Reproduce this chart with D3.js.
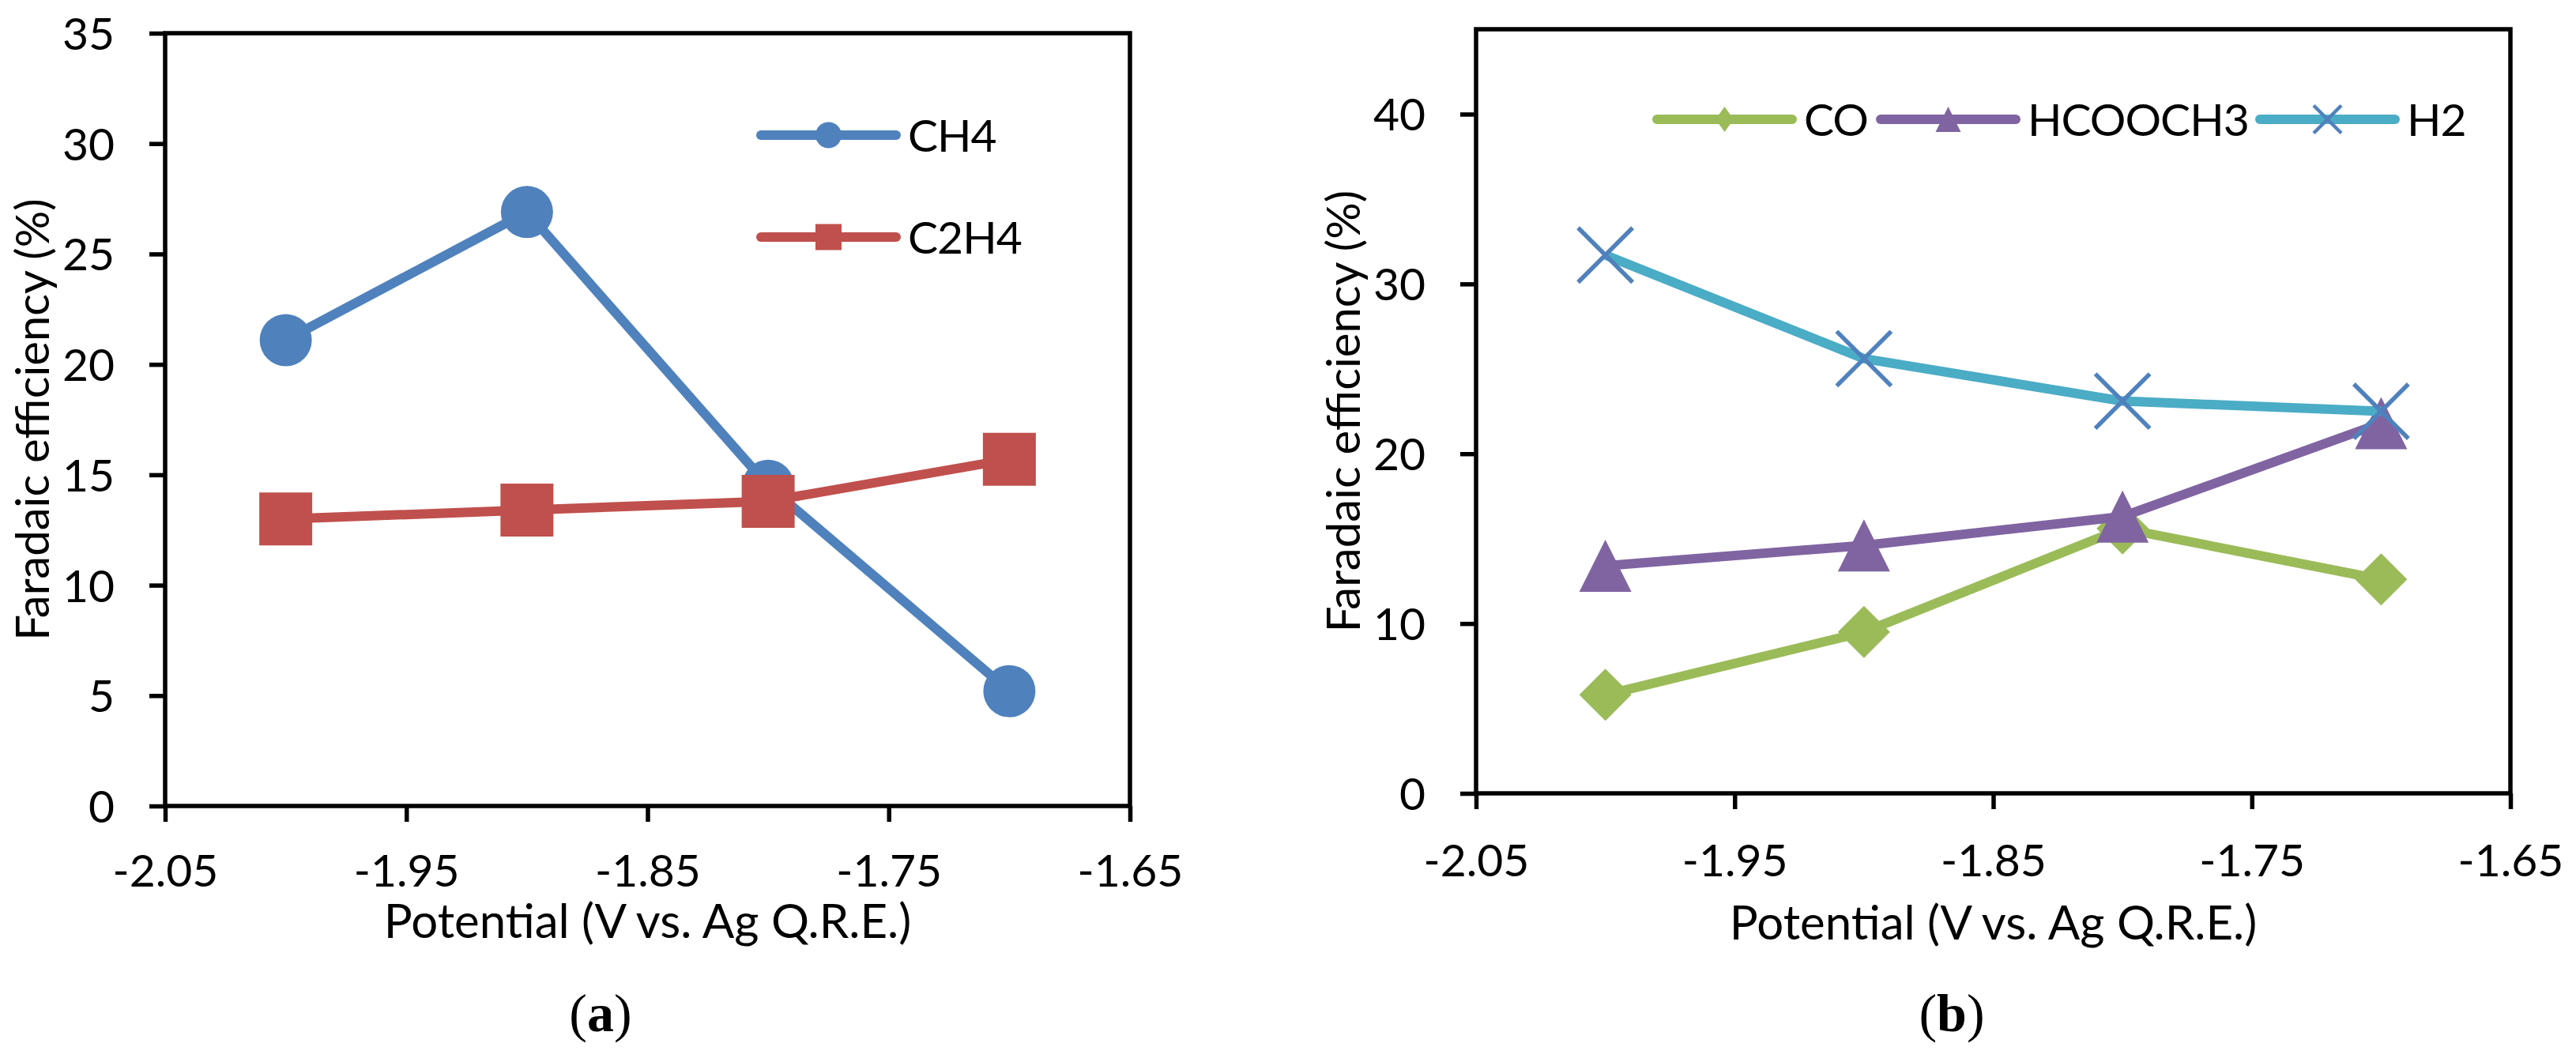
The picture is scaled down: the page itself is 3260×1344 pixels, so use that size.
<!DOCTYPE html>
<html>
<head>
<meta charset="utf-8">
<title>Faradaic efficiency vs potential</title>
<script src="https://cdn.jsdelivr.net/npm/d3@7"></script>
<style>
  body { margin: 0; background: #fff; }
  svg { display: block; background: #fff; }
</style>
</head>
<body>
<svg id="chart" width="3260" height="1344"></svg>
<script>
// measured potentials (V vs. Ag Q.R.E.)
const potentials = [-2.0, -1.9, -1.8, -1.7];
const xTicks = [-2.05, -1.95, -1.85, -1.75, -1.65];

// panel (a)
const ch4 = [21.1, 26.9, 14.5, 5.2];
const c2h4 = [13.0, 13.4, 13.8, 15.7];
const yTicksA = [0, 5, 10, 15, 20, 25, 30, 35];

// panel (b)
const co = [5.8, 9.5, 15.6, 12.6];
const hcooch3 = [13.4, 14.6, 16.3, 21.8];
const h2 = [31.7, 25.6, 23.1, 22.5];
const yTicksB = [0, 10, 20, 30, 40];

const FONT = "Lato, 'Open Sans', sans-serif";
const svg = d3.select("#chart");

// marker shapes, size = full extent of the marker
const circleMark = { draw(ctx, size) { const r = size / 2; ctx.moveTo(r, 0); ctx.arc(0, 0, r, 0, 2 * Math.PI); } };
const squareMark = { draw(ctx, size) { ctx.rect(-size / 2, -size / 2, size, size); } };
const triangleMark = {
    draw(ctx, size) {
        const r = size / 2;
        ctx.moveTo(0, -r); ctx.lineTo(r, r); ctx.lineTo(-r, r); ctx.closePath();
    }
};
function diamondMark(aspect) {
    return {
        draw(ctx, size) {
            const h = size / 2, w = h * aspect;
            ctx.moveTo(0, -h); ctx.lineTo(w, 0); ctx.lineTo(0, h); ctx.lineTo(-w, 0); ctx.closePath();
        }
    };
}
const crossMark = {
    draw(ctx, size) {
        const r = size / 2;
        ctx.moveTo(-r, -r); ctx.lineTo(r, r);
        ctx.moveTo(r, -r); ctx.lineTo(-r, r);
    }
};

function drawMarker(sel, s, size, legend) {
    const p = sel.append("path").attr("d", d3.symbol(legend && s.legendMark ? s.legendMark : s.mark, size)());
    if (s.stroked) {
        p.attr("fill", "none").attr("stroke", s.markColor)
            .attr("stroke-width", legend ? 4.5 : 5.5);
    } else {
        p.attr("fill", s.markColor);
    }
    return p;
}

function drawPanel(cfg) {
    const g = svg.append("g");
    const x = d3.scaleLinear()
        .domain([xTicks[0], xTicks[xTicks.length - 1]])
        .range([cfg.left, cfg.right]);
    const y = d3.scaleLinear().domain([0, cfg.yMax]).range([cfg.bottom, cfg.top]);

    // axes (outward ticks)
    const ya = g.append("g")
        .attr("transform", `translate(${cfg.left},0)`)
        .call(d3.axisLeft(y).tickValues(cfg.yTicks).tickSize(20).tickPadding(44).tickFormat(d => d));
    const xa = g.append("g")
        .attr("transform", `translate(0,${cfg.bottom})`)
        .call(d3.axisBottom(x).tickValues(xTicks).tickSize(20).tickPadding(cfg.xPad).tickFormat(d => d.toFixed(2)));

    [ya, xa].forEach(a => {
        a.attr("font-family", FONT).attr("font-size", 57);
        a.select(".domain").remove();
        a.selectAll(".tick line").attr("stroke", "#000").attr("stroke-width", 5.5);
        a.selectAll(".tick text").attr("fill", "#000");
    });
    ya.selectAll(".tick text").attr("dy", "0.36em");

    // plot frame
    g.append("rect")
        .attr("x", cfg.left).attr("y", cfg.top)
        .attr("width", cfg.right - cfg.left).attr("height", cfg.bottom - cfg.top)
        .attr("fill", "none").attr("stroke", "#000").attr("stroke-width", 5.5);

    const line = d3.line().x((d, i) => x(potentials[i])).y(d => y(d));

    cfg.series.forEach(s => {
        g.append("path")
            .attr("d", line(s.values))
            .attr("fill", "none")
            .attr("stroke", s.color)
            .attr("stroke-width", 12)
            .attr("stroke-linejoin", "round");
        s.values.forEach((v, i) => {
            drawMarker(g, s, s.size, false)
                .attr("transform", `translate(${x(potentials[i])},${y(v)})`);
        });
    });

    // legend
    cfg.series.forEach((s, i) => {
        const L = cfg.legend[i];
        const lg = g.append("g").attr("transform", `translate(${L.x},${L.y})`);
        lg.append("line")
            .attr("x1", 0).attr("x2", cfg.legendLine)
            .attr("stroke", s.color).attr("stroke-width", 12).attr("stroke-linecap", "round");
        drawMarker(lg, s, s.legendSize, true)
            .attr("transform", `translate(${cfg.legendLine / 2},0)`);
        lg.append("text")
            .attr("x", cfg.legendLine + 15)
            .attr("dy", "0.36em")
            .attr("font-family", FONT).attr("font-size", 57)
            .attr("letter-spacing", -1)
            .text(s.name);
    });

    // axis titles
    g.append("text")
        .attr("x", (cfg.left + cfg.right) / 2).attr("y", cfg.xTitleY)
        .attr("text-anchor", "middle")
        .attr("font-family", FONT).attr("font-size", 60)
        .text("Potential (V vs. Ag Q.R.E.)");
    g.append("text")
        .attr("transform", `translate(${cfg.left - 147},${(cfg.top + cfg.bottom) / 2}) rotate(-90)`)
        .attr("text-anchor", "middle")
        .attr("font-family", FONT).attr("font-size", 58)
        .text("Faradaic efficiency (%)");

    // panel letter
    const pl = g.append("text")
        .attr("x", cfg.tagX).attr("y", 1305)
        .attr("text-anchor", "middle")
        .attr("font-family", "'Liberation Serif', 'DejaVu Serif', serif")
        .attr("font-size", 68);
    pl.append("tspan").text("(");
    pl.append("tspan").attr("font-weight", "bold").text(cfg.tag);
    pl.append("tspan").text(")");
}

drawPanel({
    left: 209, right: 1430, top: 42, bottom: 1020,
    yMax: 35, yTicks: yTicksA, xPad: 42, xTitleY: 1187,
    tag: "a", tagX: 760,
    legendLine: 171,
    legend: [{ x: 963, y: 171 }, { x: 963, y: 300 }],
    series: [
        { name: "CH4", values: ch4, color: "#4F81BD", markColor: "#4F81BD", mark: circleMark, size: 66, legendSize: 33 },
        { name: "C2H4", values: c2h4, color: "#C0504D", markColor: "#C0504D", mark: squareMark, size: 67, legendSize: 33 }
    ]
});

drawPanel({
    left: 1868, right: 3177, top: 37, bottom: 1004,
    yMax: 45, yTicks: yTicksB, xPad: 45, xTitleY: 1189,
    tag: "b", tagX: 2470,
    legendLine: 171,
    legend: [{ x: 2097, y: 151 }, { x: 2380, y: 151 }, { x: 2860, y: 151 }],
    series: [
        { name: "CO", values: co, color: "#9BBB59", markColor: "#9BBB59", mark: diamondMark(1), legendMark: diamondMark(0.72), size: 66, legendSize: 32 },
        { name: "HCOOCH3", values: hcooch3, color: "#8064A2", markColor: "#8064A2", mark: triangleMark, size: 66, legendSize: 32 },
        { name: "H2", values: h2, color: "#4BACC6", markColor: "#4F81BD", mark: crossMark, stroked: true, size: 69, legendSize: 35 }
    ]
});
</script>
</body>
</html>
